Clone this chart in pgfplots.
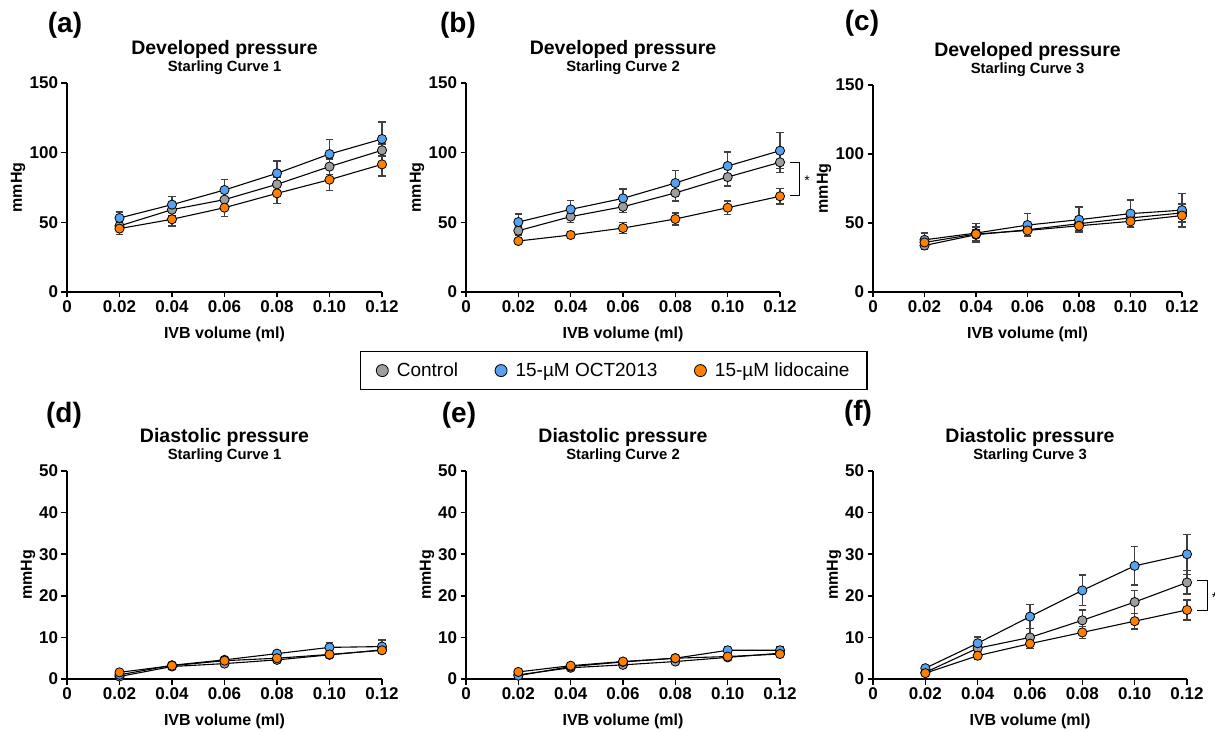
\documentclass[border=0pt]{standalone}
\usepackage{fontspec}
\setmainfont{Liberation Sans}
\usepackage{pgfplots}
\usepackage{pgfplotstable}
\pgfplotsset{compat=1.18}

\definecolor{ctlgray}{RGB}{158,158,158}
\definecolor{octblue}{RGB}{86,162,240}
\definecolor{lidorange}{RGB}{255,128,0}
\definecolor{errgray}{RGB}{64,64,64}

\pgfplotstableread{
x    ctl   ctle oct   octe lid  lide
0.02 47.4  3.0  53.1  4.3  45.5 4.1
0.04 59.1  4.0  62.7  5.7  52.2 4.8
0.06 66.3  4.5  73.2  7.4  60.5 6.2
0.08 77.3  5.0  85.2  8.8  70.8 7.4
0.10 90.0  5.5  99.0  10.3 80.6 7.9
0.12 101.7 4.5  109.8 12.2 91.6 8.3
}\tabA
\pgfplotstableread{
x    ctl   ctle oct   octe lid  lide
0.02 44.0  3.0  50.2  5.8  36.6 2.0
0.04 54.1  4.3  59.3  6.5  40.9 2.6
0.06 61.2  4.2  67.2  6.7  45.9 3.9
0.08 71.1  5.8  78.2  8.9  52.4 4.3
0.10 82.5  6.4  90.4  10.1 60.5 4.8
0.12 93.1  7.5  101.4 13.0 68.7 5.6
}\tabB
\pgfplotstableread{
x    ctl   ctle oct   octe lid  lide
0.02 33.7  3.0  37.8  4.9  35.9 3.0
0.04 41.5  4.0  42.7  6.8  42.0 5.0
0.06 45.1  4.0  48.5  8.3  44.6 3.9
0.08 49.5  5.0  52.4  9.1  48.0 4.2
0.10 53.7  5.0  56.8  9.8  51.2 3.8
0.12 57.3  6.5  59.3  12.2 55.4 7.8
}\tabC
\pgfplotstableread{
x    ctl  ctle oct  octe lid  lide
0.02 0.6  0.3  1.0  0.4  1.6  0.4
0.04 3.0  0.4  3.3  0.4  3.2  0.4
0.06 3.7  0.5  4.6  0.5  4.4  0.5
0.08 4.6  0.5  6.1  0.6  5.0  0.5
0.10 5.8  0.6  7.6  1.2  5.9  0.6
0.12 7.0  0.8  7.8  1.6  6.9  0.7
}\tabD
\pgfplotstableread{
x    ctl  ctle oct  octe lid  lide
0.02 1.0  0.3  0.8  0.3  1.7  0.3
0.04 2.7  0.4  3.0  0.4  3.2  0.4
0.06 3.4  0.4  4.1  0.5  4.2  0.4
0.08 4.2  0.5  5.0  0.5  5.0  0.5
0.10 5.2  0.6  6.9  0.9  5.4  0.5
0.12 6.2  0.7  6.9  0.9  6.0  0.6
}\tabE
\pgfplotstableread{
x    ctl  ctle oct  octe lid  lide
0.02 1.6  0.4  2.6  0.5  1.4  0.4
0.04 7.4  1.2  8.6  1.5  5.6  0.8
0.06 10.0 2.1  15.0 2.9  8.5  1.2
0.08 14.1 2.5  21.3 3.7  11.2 1.5
0.10 18.5 2.7  27.2 4.6  13.9 1.9
0.12 23.2 2.8  30.0 4.8  16.6 2.4
}\tabF

\newcommand{\labfont}{\bfseries\fontsize{16}{18}\selectfont}

\pgfplotsset{
  panel/.style={
    scale only axis, clip=false,
    axis x line=bottom, axis y line=left,
    axis line style={line width=1.8pt, -},
    xmin=0, xmax=0.12, ymin=0,
    xtick={0,0.02,0.04,0.06,0.08,0.10,0.12},
    xticklabels={0,0.02,0.04,0.06,0.08,0.10,0.12},
    tick align=outside, major tick length=5.5pt,
    tick style={line width=1.6pt, black},
    tick label style={font=\bfseries\fontsize{17}{19}\selectfont},
    xtick pos=bottom, ytick pos=left,
    xlabel={IVB volume (ml)}, ylabel={mmHg},
    every axis x label/.style={at={(axis description cs:0.5,0)}, yshift=-42pt, anchor=center, font=\labfont},
  },
  toprow/.style={
    ymax=150, ytick={0,50,100,150}, yticklabels={0,50,100,150},
    every axis y label/.style={at={(axis description cs:0,0.5)}, xshift=-49pt, rotate=90, anchor=center, font=\labfont},
  },
  botrow/.style={
    ymax=50, ytick={0,10,20,30,40,50}, yticklabels={0,10,20,30,40,50},
    every axis y label/.style={at={(axis description cs:0,0.5)}, xshift=-39pt, rotate=90, anchor=center, font=\labfont},
  },
}

\newcommand{\seriesline}[2]{%
  \addplot[black, line width=1.1pt, mark=none, forget plot,
    error bars/.cd, y dir=both, y explicit,
    error bar style={line width=1.3pt, draw=errgray},
    error mark options={rotate=90, mark size=3.8pt, line width=1.3pt, draw=errgray}]
    table[x=x, y=#2, y error=#2e] {#1};
}
\newcommand{\seriesmarks}[3]{%
  \addplot[only marks, mark=*, mark size=4.6pt, forget plot,
    mark options={fill=#3, draw=black, line width=0.8pt}]
    table[x=x, y=#2] {#1};
}
\newcommand{\allseries}[1]{%
  \seriesline{#1}{ctl}\seriesline{#1}{oct}\seriesline{#1}{lid}%
  \seriesmarks{#1}{ctl}{ctlgray}\seriesmarks{#1}{oct}{octblue}\seriesmarks{#1}{lid}{lidorange}%
}
\newcommand{\paneltitle}[2]{%
  \node[font=\bfseries\fontsize{19.5}{22}\selectfont, yshift=34pt] at (rel axis cs:0.5,1) {#1};
  \node[font=\bfseries\fontsize{14.8}{17}\selectfont, yshift=15.5pt] at (rel axis cs:0.5,1) {#2};
}

\begin{document}
\begin{tikzpicture}
\useasboundingbox (0pt,0pt) rectangle (1215pt,731pt);

% (a)
\begin{axis}[panel, toprow, at={(67pt,439pt)}, anchor=south west, width=315pt, height=209pt]
\allseries{\tabA}
\paneltitle{Developed pressure}{Starling Curve 1}
\end{axis}

% (b)
\begin{axis}[panel, toprow, at={(466pt,439pt)}, anchor=south west, width=314pt, height=209pt,
  legend image code/.code={\draw[#1] plot coordinates {(0pt,0pt)};},
  legend style={at={(axis description cs:0.471,-0.376)}, anchor=center,
    legend columns=3, draw=black, line width=1.3pt, inner xsep=15.5pt, inner ysep=9.5pt,
    font=\fontsize{19}{22}\selectfont,
    /tikz/every odd column/.append style={column sep=6.5pt},
    /tikz/every even column/.append style={column sep=35pt}},
  legend cell align=left]
\allseries{\tabB}
\addlegendimage{only marks, mark=*, mark size=6pt, mark options={fill=ctlgray, draw=black, line width=0.8pt}}
\addlegendentry{Control}
\addlegendimage{only marks, mark=*, mark size=6pt, mark options={fill=octblue, draw=black, line width=0.8pt}}
\addlegendentry{15-µM OCT2013}
\addlegendimage{only marks, mark=*, mark size=6pt, mark options={fill=lidorange, draw=black, line width=0.8pt}}
\addlegendentry{15-µM lidocaine}
\draw[line width=0.9pt] (axis cs:0.1238,93) -- (axis cs:0.1276,93) -- (axis cs:0.1276,69) -- (axis cs:0.1238,69);
\node[font=\fontsize{14}{16}\selectfont] at (axis cs:0.1304,80) {*};
\paneltitle{Developed pressure}{Starling Curve 2}
\end{axis}

% (c)
\begin{axis}[panel, toprow, at={(873pt,439pt)}, anchor=south west, width=309pt, height=207pt]
\allseries{\tabC}
\paneltitle{Developed pressure}{Starling Curve 3}
\end{axis}

% (d)
\begin{axis}[panel, botrow, at={(67pt,52pt)}, anchor=south west, width=315pt, height=208pt]
\allseries{\tabD}
\paneltitle{Diastolic pressure}{Starling Curve 1}
\end{axis}

% (e)
\begin{axis}[panel, botrow, at={(466pt,52pt)}, anchor=south west, width=314pt, height=208pt]
\allseries{\tabE}
\paneltitle{Diastolic pressure}{Starling Curve 2}
\end{axis}

% (f)
\begin{axis}[panel, botrow, at={(873pt,52pt)}, anchor=south west, width=314pt, height=208pt]
\allseries{\tabF}
\draw[line width=0.9pt] (axis cs:0.1238,23.6) -- (axis cs:0.128,23.6) -- (axis cs:0.128,16.4) -- (axis cs:0.1238,16.4);
\node[font=\fontsize{14}{16}\selectfont] at (axis cs:0.1305,19.5) {*};
\paneltitle{Diastolic pressure}{Starling Curve 3}
\end{axis}

% panel letters
\node[font=\bfseries\fontsize{28}{30}\selectfont] at (65pt,706pt) {(a)};
\node[font=\bfseries\fontsize{28}{30}\selectfont] at (458pt,706pt) {(b)};
\node[font=\bfseries\fontsize{28}{30}\selectfont] at (862pt,708pt) {(c)};
\node[font=\bfseries\fontsize{28}{30}\selectfont] at (64pt,316pt) {(d)};
\node[font=\bfseries\fontsize{28}{30}\selectfont] at (459pt,316pt) {(e)};
\node[font=\bfseries\fontsize{28}{30}\selectfont] at (858pt,318pt) {(f)};
\end{tikzpicture}
\end{document}
